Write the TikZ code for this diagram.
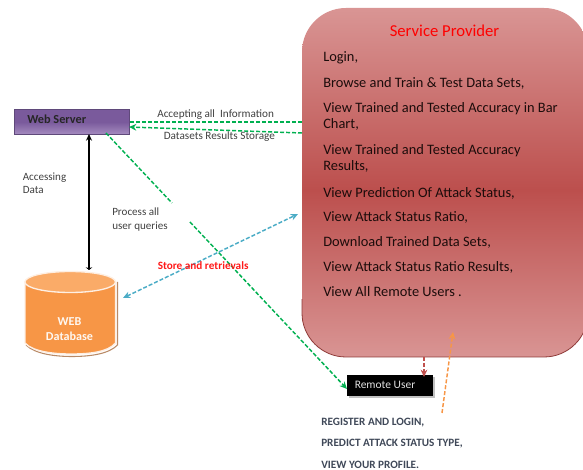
\documentclass[tikz,border=0pt]{standalone}
\usepackage{fontspec}
\setmainfont{Carlito}
\usetikzlibrary{arrows.meta,shadows}
\definecolor{pA}{HTML}{D99594}
\definecolor{pB}{HTML}{BC4F4D}
\definecolor{pEdge}{HTML}{8E3A38}
\definecolor{wsA}{HTML}{7A5A9C}
\definecolor{wsB}{HTML}{A58CC0}
\definecolor{wsEdge}{HTML}{5F497A}
\definecolor{dbFace}{HTML}{F79646}
\definecolor{dbTop}{HTML}{FAAB68}
\definecolor{dbEdge}{HTML}{B98A66}
\definecolor{greenLn}{HTML}{00B050}
\definecolor{blueLn}{HTML}{4BACC6}
\definecolor{orangeLn}{HTML}{F79646}
\definecolor{redLn}{HTML}{C0504D}
\definecolor{inkGray}{HTML}{404040}
\definecolor{capsInk}{HTML}{3F4858}
\tikzset{
  x=0.75pt,y=-0.75pt,
  lbl/.style={anchor=west,inner sep=0pt,font=\fontsize{8.3}{10}\selectfont,text=inkGray,align=left},
  item/.style={anchor=west,inner sep=0pt,font=\fontsize{10.8}{12.6}\selectfont,text=black!85!pB,align=left},
  caps/.style={anchor=west,inner sep=0pt,font=\bfseries\fontsize{8.4}{9}\selectfont,text=capsInk},
  conn/.style={line width=1.1pt,dash pattern=on 3pt off 1.5pt},
  tipg/.style={-{Stealth[length=5.5pt,width=5pt]}},
}
\begin{document}
\begin{tikzpicture}
\useasboundingbox (0,0) rectangle (583,470);
% Service provider
\begin{scope}
\clip[rounded corners=33pt] (302,8) rectangle (588,357);
\shade[top color=pA,bottom color=pB] (302,8) rectangle (588,190);
\shade[top color=pB,bottom color=pA] (302,190) rectangle (588,358);
\end{scope}
\begin{scope}
\clip (295,300) rectangle (583,360);
\draw[pEdge,line width=0.6pt,rounded corners=33pt] (302,8) rectangle (588,357);
\end{scope}
\node[minimum width=210pt,minimum height=260pt,inner sep=0pt] (sp) at (443,182) {};
\node[anchor=center,inner sep=0pt,text=red,font=\fontsize{12.5}{14}\selectfont] (sptitle) at (444.5,31) {Service Provider};
\node[item] (i1) at (323,58) {Login,};
\node[item] (i2) at (323,83) {Browse and Train \& Test Data Sets,};
\node[item] (i3) at (323,116.5) {View Trained and Tested Accuracy in Bar\\Chart,};
\node[item] (i4) at (323,158.5) {View Trained and Tested Accuracy\\Results,};
\node[item] (i5) at (323,193) {View Prediction Of Attack Status,};
\node[item] (i6) at (323,217) {View Attack Status Ratio,};
\node[item] (i7) at (323,242) {Download Trained Data Sets,};
\node[item] (i8) at (323,267) {View Attack Status Ratio Results,};
\node[item] (i9) at (323,292) {View All Remote Users .};
% Web server
\node[anchor=north west,minimum width=86.25pt,minimum height=18.4pt,inner sep=0pt,draw=wsEdge,line width=0.5pt,
  top color=wsA,bottom color=wsB,middle color=wsA] (ws) at (14,109.5) {};
\node[anchor=west,inner sep=0pt,font=\bfseries\fontsize{9.2}{10}\selectfont,text=black!85] (wst) at (27,119.5) {Web Server};
% Remote user
\node[anchor=north west,minimum width=64.5pt,minimum height=15.75pt,inner sep=0pt,fill=black,
  drop shadow={shadow xshift=1pt,shadow yshift=-1pt,fill=black!35,opacity=.7}] (ru) at (347,375) {};
\node[anchor=center,inner sep=0pt,text=white!88!black,font=\fontsize{8.6}{10}\selectfont] (rut) at (385,385) {Remote User};
% Database
\draw[dbEdge,line width=0.8pt] (26,345) .. controls (35,354) and (55,356.5) .. (72,356.5) .. controls (90,356.5) and (109,354) .. (117.5,345) -- (117.5,282);
\fill[dbFace,draw=white!85!dbFace,line width=1pt] (25,282) -- (25,343) .. controls (33,352) and (55,354) .. (71,354) .. controls (90,354) and (108,352) .. (115.5,343) -- (115.5,282) -- cycle;
\fill[dbTop,draw=white!85!dbFace,line width=1pt] (70.2,282) ellipse (45.3 and 10.5);
\node[anchor=center,inner sep=0pt,text=white!92!dbFace,align=center,font=\bfseries\fontsize{9.1}{11}\selectfont] (db) at (69.5,329) {WEB\\Database};
% Named free ends
\coordinate (wsR1) at (129,122);
\coordinate (spL1) at (302,122);
\coordinate (wsR2) at (129,127);
\coordinate (spL2) at (302,133);
\coordinate (wsB1) at (106,133);
\coordinate (gap1) at (172,203);
\coordinate (gap2) at (190,222);
\coordinate (ruL) at (347,389);
\coordinate (dbR) at (123,298);
\coordinate (spB) at (298,214);
\coordinate (wsB2) at (89,134);
\coordinate (dbT) at (89,270);
\coordinate (spB2) at (424,357);
\coordinate (ruT) at (424,377);
\coordinate (caps) at (442,413);
\coordinate (spB3) at (453,332);
% Connectors
\draw[conn,greenLn] (spL1) -- (wsR1);
\draw[conn,greenLn,tipg] (spL2) -- (wsR2);
\draw[conn,greenLn] (wsB1) -- (gap1);
\draw[conn,greenLn,tipg] (gap2) -- (ruL);
\draw[conn,blueLn,{Stealth[length=5.5pt,width=5pt]}-{Stealth[length=5.5pt,width=5pt]}] (dbR) -- (spB);
\draw[black,line width=0.9pt,{Stealth[length=5pt,width=4.5pt]}-{Stealth[length=2pt,width=5pt]}] (wsB2) -- (dbT);
\draw[conn,redLn,tipg] (spB2) -- (ruT);
\draw[conn,orangeLn,tipg] (caps) -- (spB3);
% Labels
\node[lbl,font=\fontsize{8.4}{10}\selectfont] (l1) at (157,115) {Accepting all\ \ Information};
\node[lbl,font=\fontsize{8.4}{10}\selectfont] (l2) at (163.5,136.5) {Datasets Results Storage};
\node[lbl] (l3) at (22.5,183.5) {Accessing\\Data};
\node[lbl] (l4) at (112,219.5) {Process all\\user queries};
\node[anchor=west,inner sep=0pt,text=red!90!white,font=\bfseries\fontsize{8.4}{9}\selectfont] (l5) at (157.5,266) {Store and retrievals};
\node[caps] (c1) at (321,422.5) {REGISTER AND LOGIN,};
\node[caps] (c2) at (321,444) {PREDICT ATTACK STATUS TYPE,};
\node[caps] (c3) at (321,465) {VIEW YOUR PROFILE.};
\end{tikzpicture}
\end{document}
